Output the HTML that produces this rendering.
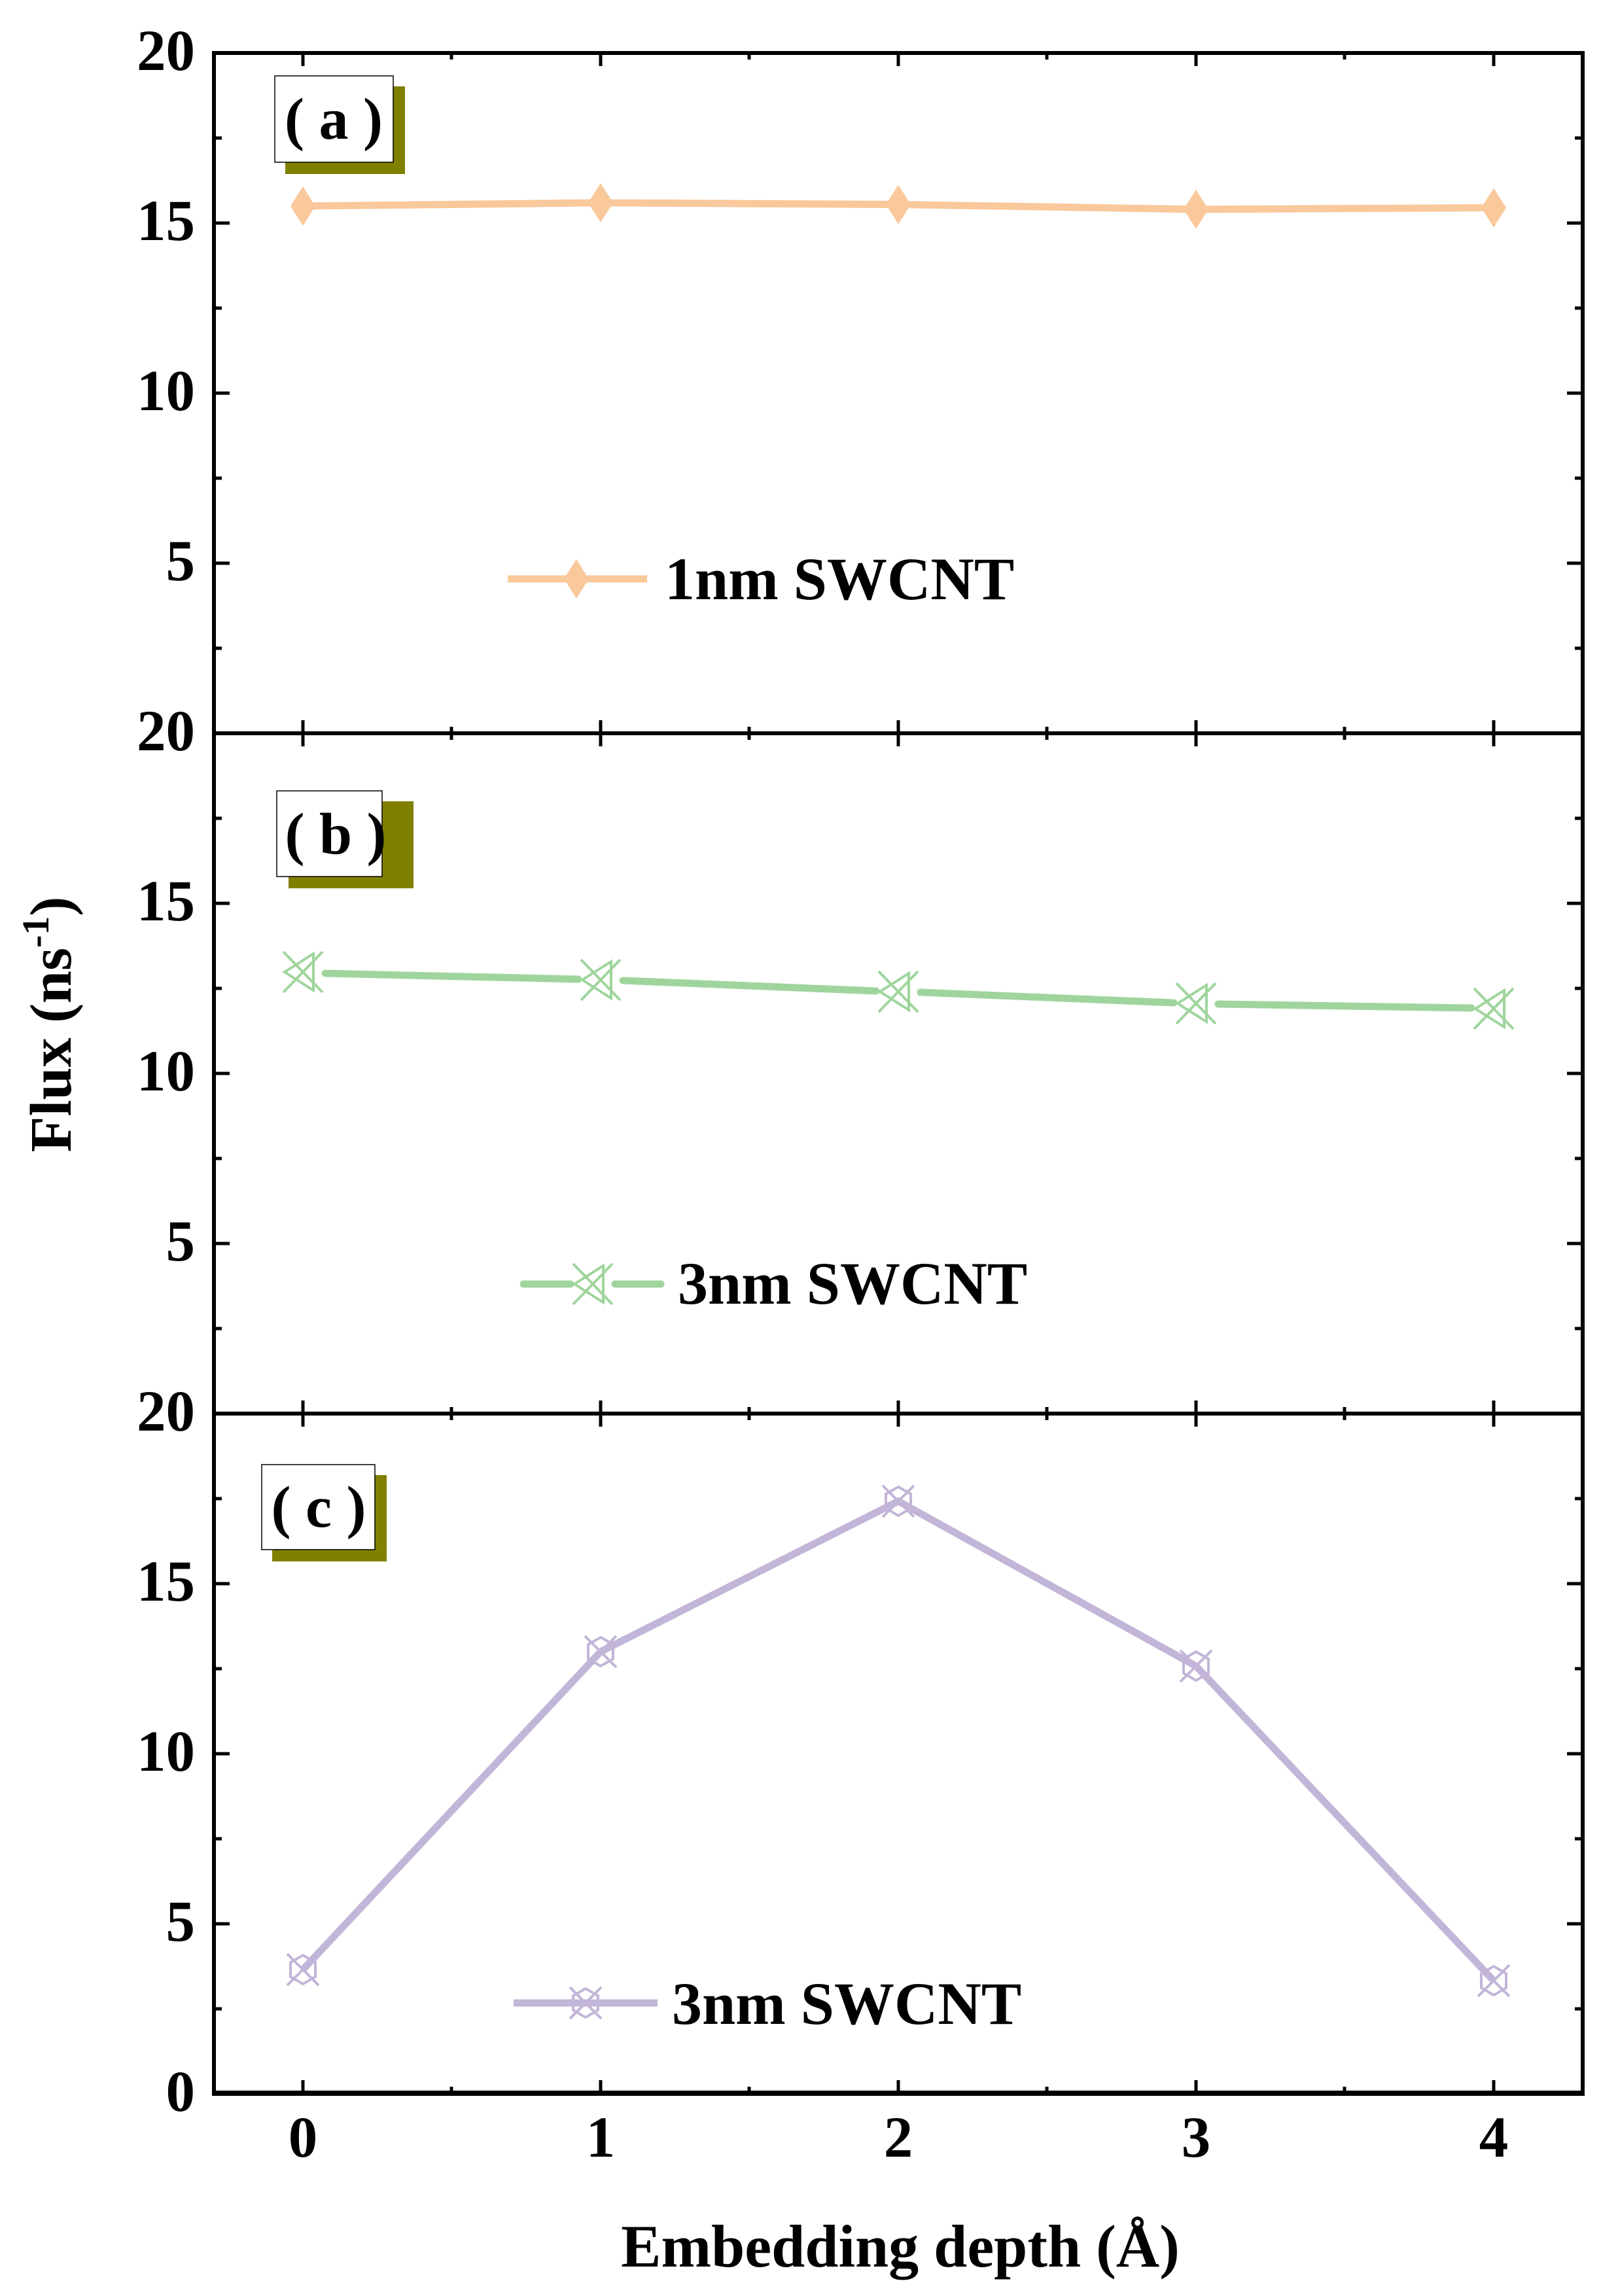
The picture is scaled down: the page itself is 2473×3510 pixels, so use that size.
<!DOCTYPE html>
<html><head><meta charset="utf-8"><style>
html,body{margin:0;padding:0;background:#fff}
svg{display:block}
text{font-family:"Liberation Serif",serif;font-weight:bold;fill:#000}
</style></head><body>
<svg width="2473" height="3510" viewBox="0 0 2473 3510" xmlns="http://www.w3.org/2000/svg">
<defs>
<g id="gm" fill="none" stroke="#9fd59d" stroke-width="4">
<path d="M-30,-31 L30,31 M-30,31 L30,-31"/>
<path d="M16,-28 L16,28 L-28,0 Z"/>
</g>
<g id="pm" fill="none" stroke="#c2b5d8" stroke-width="4">
<path d="M-24,-24 L24,24 M-24,24 L24,-24"/>
<path d="M0,-22 L19,-11 L19,11 L0,22 L-19,11 L-19,-11 Z"/>
</g>
</defs>

<g fill="none" stroke="#000" stroke-width="6">
<rect x="327" y="81" width="2092" height="3119"/>
<line x1="327" y1="1121" x2="2419" y2="1121"/>
<line x1="327" y1="2161" x2="2419" y2="2161"/>
</g>
<line x1="324" y1="3200" x2="2422" y2="3200" stroke="#000" stroke-width="8"/>

<g stroke="#000" stroke-width="5">
<path d="M463,81v20M918,81v20M1373,81v20M1828,81v20M2283,81v20M690,81v10M1145,81v10M1600,81v10M2055,81v10"/>
<path d="M463,1121v-20M918,1121v-20M1373,1121v-20M1828,1121v-20M2283,1121v-20M690,1121v-10M1145,1121v-10M1600,1121v-10M2055,1121v-10"/>
<path d="M463,1121v20M918,1121v20M1373,1121v20M1828,1121v20M2283,1121v20M690,1121v10M1145,1121v10M1600,1121v10M2055,1121v10"/>
<path d="M463,2161v-20M918,2161v-20M1373,2161v-20M1828,2161v-20M2283,2161v-20M690,2161v-10M1145,2161v-10M1600,2161v-10M2055,2161v-10"/>
<path d="M463,2161v20M918,2161v20M1373,2161v20M1828,2161v20M2283,2161v20M690,2161v10M1145,2161v10M1600,2161v10M2055,2161v10"/>
<path d="M463,3200v-20M918,3200v-20M1373,3200v-20M1828,3200v-20M2283,3200v-20M690,3200v-10M1145,3200v-10M1600,3200v-10M2055,3200v-10"/>
<path d="M327,341h24M327,601h24M327,861h24M327,211h12M327,471h12M327,731h12M327,991h12
M327,1381h24M327,1641h24M327,1901h24M327,1251h12M327,1511h12M327,1771h12M327,2031h12
M327,2421h24M327,2681h24M327,2941h24M327,2291h12M327,2551h12M327,2811h12M327,3071h12"/>
<path d="M2419,341h-24M2419,601h-24M2419,861h-24M2419,211h-12M2419,471h-12M2419,731h-12M2419,991h-12
M2419,1381h-24M2419,1641h-24M2419,1901h-24M2419,1251h-12M2419,1511h-12M2419,1771h-12M2419,2031h-12
M2419,2421h-24M2419,2681h-24M2419,2941h-24M2419,2291h-12M2419,2551h-12M2419,2811h-12M2419,3071h-12"/>
</g>

<g font-size="89" text-anchor="end">
<text x="298" y="107">20</text>
<text x="298" y="367">15</text>
<text x="298" y="627">10</text>
<text x="298" y="887">5</text>
<text x="298" y="1147">20</text>
<text x="298" y="1407">15</text>
<text x="298" y="1667">10</text>
<text x="298" y="1927">5</text>
<text x="298" y="2187">20</text>
<text x="298" y="2447">15</text>
<text x="298" y="2707">10</text>
<text x="298" y="2967">5</text>
<text x="298" y="3227">0</text>
</g>
<g font-size="89" text-anchor="middle">
<text x="463" y="3297">0</text>
<text x="918" y="3297">1</text>
<text x="1373" y="3297">2</text>
<text x="1828" y="3297">3</text>
<text x="2283" y="3297">4</text>
</g>

<text x="1376" y="3465" font-size="92" text-anchor="middle">Embedding depth (Å)</text>
<text transform="translate(108,1566) rotate(-90)" font-size="90" text-anchor="middle">Flux (ns<tspan font-size="58" dy="-34">-1</tspan><tspan dy="34">)</tspan></text>

<rect x="436" y="132" width="183" height="134" fill="#808000"/>
<rect x="420" y="116" width="181" height="132" fill="#fff" stroke="#000" stroke-width="1.5"/>
<text x="510" y="212" font-size="90" text-anchor="middle">( a )</text>
<rect x="441" y="1225" width="191" height="133" fill="#808000"/>
<rect x="423" y="1209" width="161" height="131" fill="#fff" stroke="#000" stroke-width="1.5"/>
<text x="513" y="1305" font-size="90" text-anchor="middle">( b )</text>
<rect x="416" y="2255" width="175" height="132" fill="#808000"/>
<rect x="400" y="2239" width="173" height="130" fill="#fff" stroke="#000" stroke-width="1.5"/>
<text x="487" y="2334" font-size="90" text-anchor="middle">( c )</text>

<polyline points="463,315 918,310 1373,312.6 1828,320 2283,317.6" fill="none" stroke="#f9c89b" stroke-width="11"/>
<g fill="#f9c89b">
<path d="M463,285 L482,315 L463,345 L444,315Z"/>
<path d="M918,280 L937,310 L918,340 L899,310Z"/>
<path d="M1373,282.6 L1392,312.6 L1373,342.6 L1354,312.6Z"/>
<path d="M1828,290 L1847,320 L1828,350 L1809,320Z"/>
<path d="M2283,287.6 L2302,317.6 L2283,347.6 L2264,317.6Z"/>
</g>
<line x1="776" y1="885" x2="989" y2="885" stroke="#f9c89b" stroke-width="11"/>
<path d="M881,855 L900,885 L881,915 L862,885Z" fill="#f9c89b"/>
<text x="1016" y="916" font-size="92">1nm SWCNT</text>

<g stroke="#9fd59d" stroke-width="11" fill="none" stroke-linecap="round">
<line x1="497" y1="1488" x2="884" y2="1497"/>
<line x1="952" y1="1499" x2="1339" y2="1515"/>
<line x1="1407" y1="1517" x2="1794" y2="1533"/>
<line x1="1862" y1="1535" x2="2249" y2="1541"/>
</g>
<use href="#gm" x="463" y="1486"/>
<use href="#gm" x="918" y="1498"/>
<use href="#gm" x="1373" y="1516"/>
<use href="#gm" x="1828" y="1534"/>
<use href="#gm" x="2283" y="1542"/>
<g stroke="#9fd59d" stroke-width="11" stroke-linecap="round">
<line x1="800" y1="1963" x2="872" y2="1963"/>
<line x1="940" y1="1963" x2="1010" y2="1963"/>
</g>
<use href="#gm" x="906" y="1963"/>
<text x="1036" y="1993" font-size="92">3nm SWCNT</text>

<polyline points="463,3011 918,2525 1373,2295 1828,2547 2283,3028" fill="none" stroke="#c2b5d8" stroke-width="11"/>
<use href="#pm" x="463" y="3011"/>
<use href="#pm" x="918" y="2525"/>
<use href="#pm" x="1373" y="2295"/>
<use href="#pm" x="1828" y="2547"/>
<use href="#pm" x="2283" y="3028"/>
<line x1="785" y1="3062" x2="1005" y2="3062" stroke="#c2b5d8" stroke-width="11"/>
<use href="#pm" x="895" y="3062"/>
<text x="1027" y="3094" font-size="92">3nm SWCNT</text>
</svg>
</body></html>
